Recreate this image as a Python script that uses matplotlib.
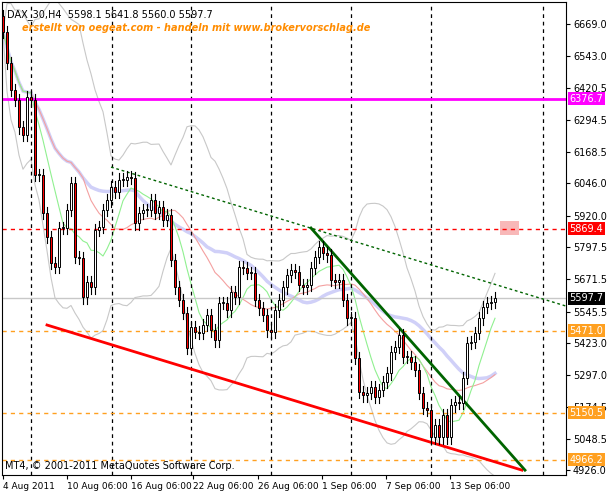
import matplotlib
matplotlib.use("Agg")
import matplotlib.pyplot as plt
import numpy as np
import pandas as pd
from matplotlib.patches import Rectangle

closes = [6638, 6517, 6411, 6372, 6266, 6235, 6384, 6372, 6079, 6079, 5931, 5837, 5735, 5720,
          5872, 5872, 5942, 6048, 5759, 5755, 5602, 5661, 5641, 5864, 5876, 5942, 5981, 6032,
          6013, 6060, 6060, 6071, 6067, 5891, 5931, 5942, 5942, 5981, 5931, 5954, 5903, 5923,
          5747, 5641, 5591, 5540, 5403, 5485, 5466, 5462, 5493, 5532, 5473, 5434, 5579, 5579,
          5551, 5622, 5602, 5720, 5716, 5696, 5696, 5591, 5559, 5532, 5473, 5466, 5551, 5591,
          5641, 5688, 5708, 5700, 5649, 5641, 5649, 5716, 5759, 5798, 5774, 5766, 5669, 5661,
          5669, 5591, 5520, 5520, 5364, 5231, 5219, 5227, 5251, 5212, 5239, 5270, 5305, 5387,
          5407, 5454, 5368, 5368, 5348, 5317, 5227, 5169, 5161, 5055, 5102, 5055, 5141, 5055,
          5180, 5192, 5188, 5286, 5423, 5427, 5462, 5520, 5563, 5579, 5583, 5598]
first_open = 6700
date_labels = ["4 Aug 2011", "10 Aug 06:00", "16 Aug 06:00", "22 Aug 06:00", "26 Aug 06:00",
               "1 Sep 06:00", "7 Sep 06:00", "13 Sep 06:00"]
date_ticks = [0, 16, 32, 47.5, 63.75, 79.75, 95.75, 111.75]
separators = [7, 27.25, 47, 67, 87, 107, 135]
price_ticks = [6669.0, 6543.0, 6420.5, 6294.5, 6168.5, 6046.0, 5920.0, 5797.5, 5671.5,
               5545.5, 5423.0, 5297.0, 5174.5, 5048.5, 4926.0]
levels = {"magenta": 6376.7, "red": 5869.4, "cur": 5597.7, "o1": 5471.0, "o2": 5150.5, "o3": 4966.2}
red_trend = [(11, 5493), (129.75, 4926)]
green_trend = [(77, 5872), (130.5, 4926)]
green_dotted = [(27, 6110), (140.75, 5567)]

W, H = 608, 494
fig = plt.figure(figsize=(W/100, H/100), dpi=100)
fig.patch.set_facecolor("white")
ax = fig.add_axes([2/W, 19/H, 564/W, 473/H])
ax.set_xlim(-0.25, 140.75)
ax.set_ylim(4907, 6755)

c = pd.Series(closes, dtype=float)
o = c.shift(1).fillna(first_open)
n = len(c)
x = np.arange(n)

mid = c.rolling(20, min_periods=1).mean()
sd = c.rolling(20, min_periods=1).std().fillna(0)
ax.plot(x, mid + 2*sd, color="#c8c8c8", lw=0.8)
ax.plot(x, mid - 2*sd, color="#c8c8c8", lw=0.8)
ax.plot(x, c.rolling(34, min_periods=1).mean(), color="#d0d0f8", lw=2.5)
ax.plot(x, c.rolling(21, min_periods=1).mean(), color="#f4a0a0", lw=0.8)
ax.plot(x, c.rolling(8, min_periods=1).mean(), color="#90f090", lw=0.8)

for s in separators:
    ax.axvline(s, color="black", ls=(0, (3, 3)), lw=0.9)

ax.axhline(levels["magenta"], color="#ff00ff", lw=2)
ax.axhline(levels["red"], color="red", ls=(0, (3, 3)), lw=1)
ax.axhline(levels["cur"], color="#c8c8c8", lw=1)
for k in ["o1", "o2", "o3"]:
    ax.axhline(levels[k], color="#ffa020", ls=(0, (3, 3)), lw=1)

ax.plot(*zip(*green_dotted), color="#006400", ls=(0, (2, 2)), lw=1)
ax.plot(*zip(*red_trend), color="red", lw=2)
ax.plot(*zip(*green_trend), color="#006400", lw=2)
ax.add_patch(Rectangle((124.25, 5845), 4.75, 55, color="#f8b8b8", lw=0))

for i in range(n):
    oo, cc = o[i], c[i]
    hi, lo = max(oo, cc) + 25, min(oo, cc) - 25
    ax.plot([i, i], [lo, hi], color="black", lw=0.8, zorder=4)
    fc = "white" if cc >= oo else "red"
    ax.add_patch(Rectangle((i - 0.32, min(oo, cc)), 0.64, max(abs(cc - oo), 3),
                           facecolor=fc, edgecolor="black", lw=0.7, zorder=5))

ax.yaxis.tick_right()
ax.set_yticks(price_ticks)
ax.set_yticklabels([f"{p:.1f}" for p in price_ticks], fontsize=7)
ax.set_xticks(date_ticks)
ax.set_xticklabels(date_labels, fontsize=6.5, ha="left")
ax.tick_params(length=3, pad=2)

box = [("magenta", "#ff00ff"), ("red", "red"), ("cur", "black"), ("o1", "#ffa020"),
       ("o2", "#ffa020"), ("o3", "#ffa020")]
for k, col in box:
    ax.text(1.006, levels[k], f"{levels[k]:.1f}", transform=ax.get_yaxis_transform(),
            fontsize=7, color="white", va="center", ha="left",
            bbox=dict(boxstyle="square,pad=0.15", fc=col, ec="none"), zorder=10)

ax.text(0.008, 0.985, "DAX_30,H4  5598.1 5641.8 5560.0 5597.7", transform=ax.transAxes,
        fontsize=7, va="top")
ax.text(0.035, 0.955, "erstellt von oegeat.com - handeln mit www.brokervorschlag.de",
        transform=ax.transAxes, fontsize=7, color="#ff8c00", fontweight="bold",
        style="italic", va="top")
ax.text(0.005, 0.008, "MT4, © 2001-2011 MetaQuotes Software Corp.", transform=ax.transAxes,
        fontsize=7, va="bottom")

fig.savefig("out.png", dpi=100)
